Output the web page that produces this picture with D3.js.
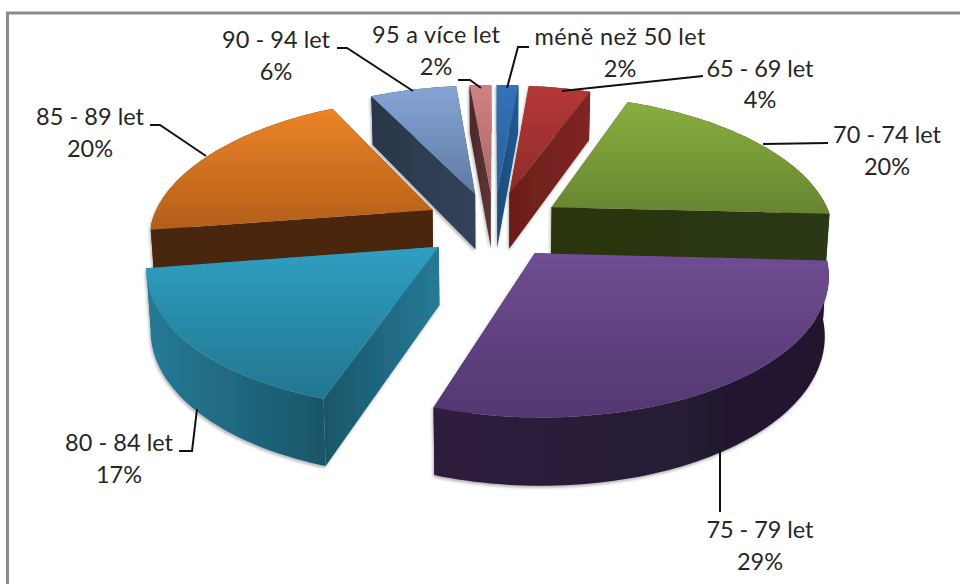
<!DOCTYPE html>
<html><head><meta charset="utf-8">
<script src="https://cdnjs.cloudflare.com/ajax/libs/d3/7.8.5/d3.min.js"></script>
<style>html,body{margin:0;padding:0;background:#fff;overflow:hidden}svg{display:block}</style>
</head><body><svg id="c" width="960" height="584"></svg>
<script>
const categories = ["méně než 50 let","65 - 69 let","70 - 74 let","75 - 79 let","80 - 84 let","85 - 89 let","90 - 94 let","95 a více let"];
const values = [1.5,4.3,20.0,29.4,17.4,19.9,6.0,1.5];
const percentLabels = ["2%","4%","20%","29%","17%","20%","6%","2%"];
const topLight = ["#3472b6","#b53837","#8aae3e","#6f4d92","#2f9fc1","#ec8325","#86a5d6","#d08282"];
const topDark  = ["#2a5f9c","#8d2b29","#67852f","#523770","#227690","#b25f1a","#5d7aa3","#a86666"];
const wallA    = ["#1f5a92","#7f2523","#2c3812","#2e1f3e","#267a96","#49270c","#33435a","#5e3434"];
const wallB    = ["#1c4c7a","#6b1e1c","#2a3511","#20172e","#195669","#47260b","#293648","#4a2a2a"];
// layout of labels: centre x, first baseline, second baseline, width, then leader polyline
const labelX  = [620,760,887,760,119,90,276,436];
const labelY1 = [45,77,143,538,451,125,48,43];
const labelY2 = [77,108,175,570,483,157,80,75];
const labelW  = [171,107,108,107,108,108,108,128];
const leaders = [
 [[507,88],[518,47],[529,47]],
 [[562,91],[703,76]],
 [[763,144],[828,143]],
 [[720,450],[720,512]],
 [[197,409],[192,451],[179,451]],
 [[206,156],[160,125],[150,125]],
 [[413,91],[347,48],[337,48]],
 [[481,88],[470,80],[458,80]]
];
const cx=494, cy=225, R=282, tilt=.472, depth=57, persp=.137, perspBackX=.18, perspBackY=.15, taper=.988, explode=.25;
const svg=d3.select("#c");
const defs=svg.append("defs");
const f=defs.append("filter").attr("id","sh").attr("x","-10%").attr("y","-10%").attr("width","120%").attr("height","125%");
f.append("feDropShadow").attr("dx",-1).attr("dy",2).attr("stdDeviation",1.8).attr("flood-color","#000").attr("flood-opacity",.3);

svg.append("path").attr("d","M7.5,584V13H960").attr("fill","none").attr("stroke","#8c8c8c").attr("stroke-width",3);

function proj(mx,my,z){
  const sx=1/(1-(my<0?perspBackX:persp)*my), sy=1/(1-(my<0?perspBackY:persp)*my);
  return [cx+R*mx*sx*(z?taper:1), cy+R*tilt*my*sy+(z?depth*sy:0)];
}
const line=d3.line();
const arcs=d3.pie().sort(null).value(d=>d)(values).map((a,i)=>{
  const mid=(a.startAngle+a.endAngle)/2;
  return {i,a0:a.startAngle,a1:a.endAngle,ox:explode*Math.sin(mid),oy:-explode*Math.cos(mid)};
});
arcs.sort((p,q)=>p.oy-q.oy);
arcs.forEach(s=>{
  const i=s.i, n=Math.max(6,Math.ceil((s.a1-s.a0)*40));
  const rim=d3.range(n+1).map(k=>{const t=s.a0+(s.a1-s.a0)*k/n;return [s.ox+Math.sin(t),s.oy-Math.cos(t)];});
  const ap=[s.ox,s.oy];
  const g=svg.append("g").attr("filter","url(#sh)");
  const gt=defs.append("linearGradient").attr("id","t"+i).attr("x1",0).attr("x2",0).attr("y1",0).attr("y2",1);
  gt.append("stop").attr("offset",0).attr("stop-color",topLight[i]);
  gt.append("stop").attr("offset",1).attr("stop-color",topDark[i]);
  const gw=defs.append("linearGradient").attr("id","w"+i).attr("x1",0).attr("x2",1).attr("y1",0).attr("y2",0);
  gw.append("stop").attr("offset",0).attr("stop-color",wallA[i]);
  gw.append("stop").attr("offset",1).attr("stop-color",wallB[i]);
  const gr=defs.append("linearGradient").attr("id","r"+i).attr("x1",1).attr("x2",0).attr("y1",0).attr("y2",0);
  gr.append("stop").attr("offset",0).attr("stop-color",wallA[i]);
  gr.append("stop").attr("offset",1).attr("stop-color",wallB[i]);
  const ext=pts=>pts.map(p=>proj(p[0],p[1],false)).concat(pts.slice().reverse().map(p=>proj(p[0],p[1],true)));
  const walls=[
    {pts:[ap,rim[0]],fill:"url(#r"+i+")"},
    {pts:[ap,rim[n]],fill:"url(#r"+i+")"},
    {pts:rim,fill:"url(#w"+i+")"}
  ].map(w=>({...w,key:d3.mean(w.pts,p=>p[1])})).sort((a,b)=>a.key-b.key);
  walls.forEach(w=>g.append("path").attr("d",line(ext(w.pts))+"Z").attr("fill",w.fill));
  g.append("path").attr("d",line([ap].concat(rim).map(p=>proj(p[0],p[1],false)))+"Z").attr("fill","url(#t"+i+")");
});
leaders.forEach(l=>svg.append("path").attr("d",line(l)).attr("fill","none").attr("stroke","#111").attr("stroke-width",2));
categories.forEach((c,i)=>{
  const t=svg.append("text").attr("text-anchor","middle").attr("font-family","Lato").attr("font-size",23.5).attr("fill","#262626");
  t.append("tspan").attr("x",labelX[i]).attr("y",labelY1[i]).attr("textLength",labelW[i]).attr("lengthAdjust","spacing").text(c);
  t.append("tspan").attr("x",labelX[i]).attr("y",labelY2[i]).text(percentLabels[i]);
});
</script></body></html>
